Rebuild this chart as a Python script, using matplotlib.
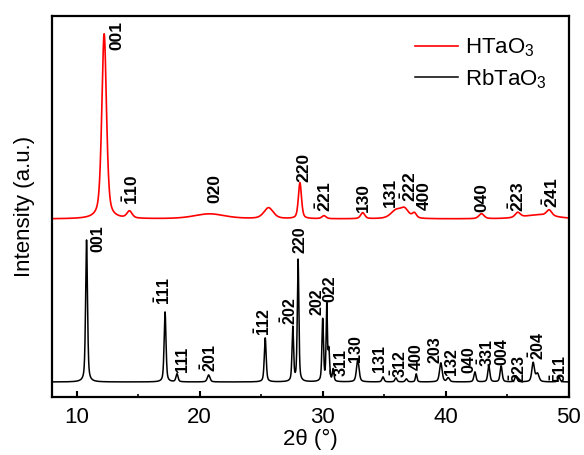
import numpy as np
import matplotlib
matplotlib.use('Agg')
import matplotlib.pyplot as plt
from matplotlib.ticker import MultipleLocator

plt.rcParams['font.family'] = 'Liberation Sans'
plt.rcParams['mathtext.fontset'] = 'custom'
plt.rcParams['mathtext.rm'] = 'Liberation Sans'
plt.rcParams['mathtext.it'] = 'Liberation Sans:italic'
plt.rcParams['mathtext.bf'] = 'Liberation Sans:bold'

# -----------------------------
# peak lists (2theta, height above background, fwhm)
# -----------------------------
h_base = 178.0
h_pos = [12.24, 14.30, 20.80, 25.60, 28.15, 30.10, 33.25, 35.95, 36.65, 37.45, 42.90, 45.85, 47.60, 48.40]
h_amp = [185, 7, 5, 11, 36, 3, 6, 8, 9, 5, 5, 5, 4, 6]
h_fwhm = [0.45, 0.5, 3.0, 0.9, 0.3, 0.4, 0.4, 1.0, 0.8, 0.4, 0.5, 0.5, 3.0, 0.5]

rb_base = 15.0
rb_pos = [10.81, 17.19, 18.16, 20.73, 25.33, 27.57, 28.00, 30.00, 30.33, 30.50, 30.85,
          32.85, 34.90, 35.95, 36.80, 37.60, 39.60, 40.20, 42.37, 43.50, 44.50, 45.70,
          47.10, 47.45, 49.20]
rb_amp = [142, 70, 8, 7, 44, 54, 122, 62, 75, 30, 12,
          22, 5, 4, 3, 8, 19, 4, 10, 16, 16, 6,
          19, 8, 5]
rb_fwhm = [0.18, 0.18, 0.2, 0.25, 0.18, 0.15, 0.15, 0.15, 0.12, 0.15, 0.15,
           0.25, 0.2, 0.2, 0.2, 0.15, 0.25, 0.25, 0.2, 0.2, 0.2, 0.2,
           0.25, 0.3, 0.2]

# reflection labels: text, 2theta, bottom of the label
h_labels = ['001', r'$\mathbf{\bar{1}10}$', '020', '220', r'$\mathbf{\bar{2}21}$', '130', '131',
            r'$\mathbf{\bar{2}22}$', '400', '040', r'$\mathbf{\bar{2}23}$', r'$\mathbf{\bar{2}41}$']
h_lab_x = [13.27, 14.46, 21.2, 28.5, 30.1, 33.3, 35.5, 37.0, 38.25, 42.95, 45.8, 48.55]
h_lab_y = [347, 192, 194, 215, 185, 185, 190, 195, 187, 185, 185, 189]

rb_labels = ['001', r'$\mathbf{\bar{1}11}$', '111', r'$\mathbf{\bar{2}01}$', r'$\mathbf{\bar{1}12}$',
             r'$\mathbf{\bar{2}02}$', '220', '202', '022', r'$\mathbf{\bar{3}11}$', '130', '131',
             r'$\mathbf{\bar{3}12}$', '400', '203', '132', '040', r'$\mathbf{\bar{3}31}$', '004',
             r'$\mathbf{\bar{2}23}$', r'$\mathbf{\bar{2}04}$', r'$\mathbf{\bar{5}11}$']
rb_lab_x = [11.73, 17.05, 18.6, 20.8, 25.2, 27.3, 28.17, 29.5, 30.55, 31.4, 32.7, 34.6,
            36.2, 37.6, 39.1, 40.5, 41.85, 43.25, 44.55, 45.85, 47.4, 49.2]
rb_lab_y = [145, 92, 25, 25, 61, 72, 144, 82, 95, 20, 35, 25,
            19, 27, 34, 22, 24, 30, 32, 14, 37, 14]


def pattern(x, base, pos, amp, fwhm, eta=0.5):
    y = np.full_like(x, base)
    for c, a, w in zip(pos, amp, fwhm):
        g = np.exp(-4 * np.log(2) * ((x - c) / w) ** 2)
        l = 1 / (1 + 4 * ((x - c) / w) ** 2)
        y += a * (eta * l + (1 - eta) * g)
    return y


tt = np.arange(8.0, 50.0, 0.01)
y_h = pattern(tt, h_base, h_pos, h_amp, h_fwhm)
y_rb = pattern(tt, rb_base, rb_pos, rb_amp, rb_fwhm)

fig = plt.figure(figsize=(5.84, 4.55), dpi=100)
ax = fig.add_axes([0.089, 0.1275, 0.885, 0.8375])

ax.plot(tt, y_h, color='#ff0000', lw=1.2, label=r'HTaO$_3$')
ax.plot(tt, y_rb, color='black', lw=1.1, label=r'RbTaO$_3$')

for t, x, y in zip(h_labels, h_lab_x, h_lab_y):
    ax.text(x, y, t, rotation=90, ha='center', va='bottom', fontsize=12.5, fontweight='bold')
for t, x, y in zip(rb_labels, rb_lab_x, rb_lab_y):
    ax.text(x, y, t, rotation=90, ha='center', va='bottom', fontsize=11.5, fontweight='bold')

ax.set_xlim(8, 50)
ax.set_ylim(0, 381)
ax.set_yticks([])
ax.xaxis.set_major_locator(MultipleLocator(10))
ax.xaxis.set_minor_locator(MultipleLocator(5))
ax.tick_params(axis='x', which='major', direction='in', length=4.5, width=1.5, labelsize=16, pad=7)
ax.tick_params(axis='x', which='minor', direction='in', length=2.5, width=1.2)
for s in ax.spines.values():
    s.set_linewidth(1.6)

ax.set_xlabel('2θ (°)', fontsize=16, labelpad=1)
ax.set_ylabel('Intensity (a.u.)', fontsize=16, labelpad=12)

ax.legend(loc='upper left', bbox_to_anchor=(0.68, 0.975), frameon=False, fontsize=16,
          handlelength=1.95, handletextpad=0.3, borderpad=0, labelspacing=0.35)

fig.savefig('out.png', dpi=100)
